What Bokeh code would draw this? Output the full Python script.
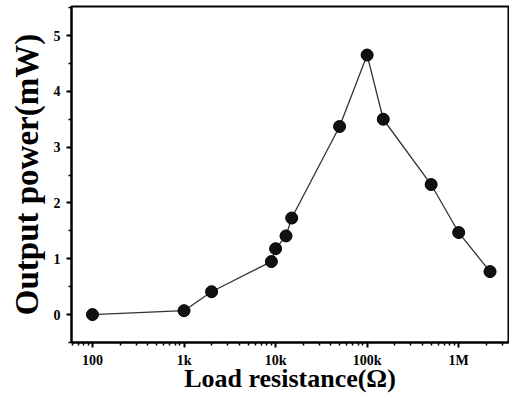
from bokeh.plotting import figure
from bokeh.models import FixedTicker, SingleIntervalTicker, Range1d
from bokeh.embed import file_html
from bokeh.resources import INLINE

# Data
load_resistance = [100, 1000, 2000, 9000, 10000, 13000, 15000, 50000, 100000, 150000, 500000, 1000000, 2200000]
output_power = [0.0, 0.07, 0.41, 0.95, 1.18, 1.41, 1.73, 3.37, 4.65, 3.50, 2.33, 1.47, 0.77]

x_major_ticks = [100, 1000, 10000, 100000, 1000000]
x_tick_labels = ["100", "1k", "10k", "100k", "1M"]

FONT = "Liberation Serif"

p = figure(width=509, height=395, x_axis_type="log", output_backend="svg",
           toolbar_location=None,
           x_range=Range1d(59, 3.5e6), y_range=Range1d(-0.5, 5.52),
           min_border_left=71, min_border_right=1, min_border_top=6, min_border_bottom=46)

p.line(load_resistance, output_power, line_color="#333333", line_width=1.3)
p.scatter(load_resistance, output_power, size=12, fill_color="#111111", line_color="#000000", line_width=1)

minor = []
for d in [10, 100, 1000, 10000, 100000, 1000000]:
    for m in range(2, 10):
        minor.append(m * d)
p.xaxis.ticker = FixedTicker(ticks=x_major_ticks, minor_ticks=minor)
p.xaxis.major_label_overrides = {t: s for t, s in zip(x_major_ticks, x_tick_labels)}
p.yaxis.ticker = SingleIntervalTicker(interval=1, num_minor_ticks=2)

for ax in [p.xaxis[0], p.yaxis[0]]:
    ax.axis_line_width = 2
    ax.axis_line_color = "black"
    ax.major_tick_line_width = 2
    ax.minor_tick_line_width = 1.5
    ax.major_tick_in = 0
    ax.major_tick_out = 5
    ax.minor_tick_in = 0
    ax.minor_tick_out = 3
    ax.major_label_text_font = FONT
    ax.major_label_text_font_style = "bold"
    ax.major_label_text_font_size = "14px"
    ax.major_label_text_color = "black"
    ax.axis_label_text_font = FONT
    ax.axis_label_text_font_style = "bold"
    ax.axis_label_text_color = "black"

p.xaxis.axis_label = "Load resistance(Ω)"
p.xaxis.axis_label_text_font_size = "26px"
p.xaxis.axis_label_standoff = -7
p.xaxis.major_label_standoff = 5
p.yaxis.axis_label = "Output power(mW)"
p.yaxis.axis_label_text_font_size = "33px"
p.yaxis.axis_label_standoff = 6
p.yaxis.major_label_standoff = 6

p.xgrid.visible = False
p.ygrid.visible = False
p.outline_line_color = "black"
p.outline_line_width = 2
p.outline_line_alpha = 1

open("out.html", "w").write(file_html(p, INLINE))
